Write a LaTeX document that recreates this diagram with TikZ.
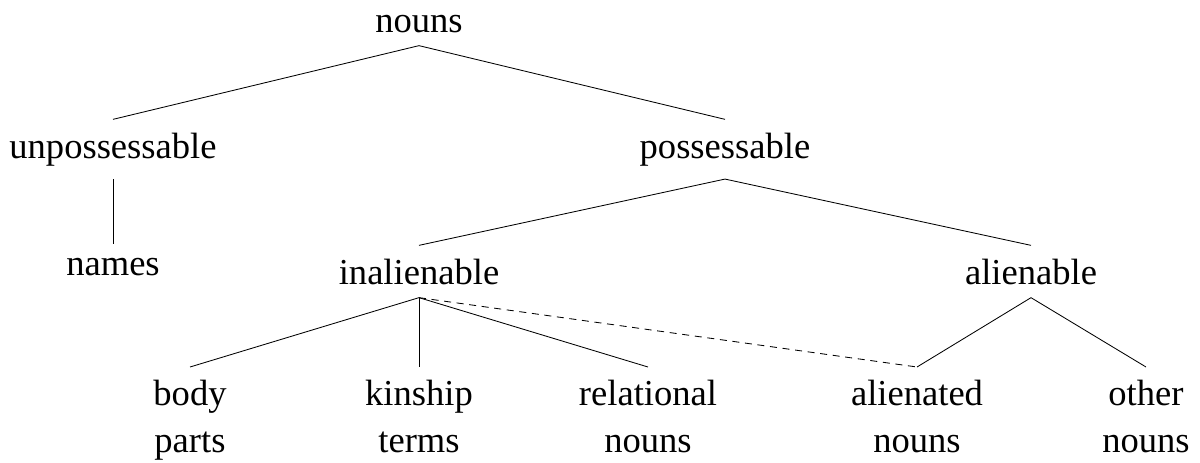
\documentclass[tikz,border=0pt]{standalone}
\usepackage{fontspec}
\setmainfont{Liberation Serif}
\begin{document}
\begin{tikzpicture}[x=0.025cm,y=-0.025cm,
  lbl/.style={inner xsep=0pt,inner ysep=0.325cm,font=\fontsize{26pt}{33.4pt}\selectfont},
  leaf/.style={lbl,align=center,anchor=north},
  br/.style={line width=0.6pt},
  dbr/.style={line width=0.6pt,dash pattern=on 5pt off 4pt}]
\useasboundingbox (0,0) rectangle (1200,462);
\node[lbl,anchor=base] (nouns) at (419,32) {nouns};
\node[lbl,anchor=base] (unposs) at (113,158) {unpossessable};
\node[lbl,anchor=base] (poss) at (725,158) {possessable};
\node[lbl,anchor=base] (names) at (113,275) {names};
\node[lbl,anchor=base] (inal) at (419,284) {inalienable};
\node[lbl,anchor=base] (alien) at (1031,284) {alienable};
\node[leaf] (body) at (190,367) {body\\parts};
\node[leaf] (kin) at (419,367) {kinship\\terms};
\node[leaf] (rel) at (648,367) {relational\\nouns};
\node[leaf] (alnd) at (917,367) {alienated\\nouns};
\node[leaf] (other) at (1146,367) {other\\nouns};
\draw[br] (nouns.south) -- (unposs.north);
\draw[br] (nouns.south) -- (poss.north);
\draw[br] (unposs.south) -- (names.north);
\draw[br] (poss.south) -- (inal.north);
\draw[br] (poss.south) -- (alien.north);
\draw[br] (inal.south) -- (body.north);
\draw[br] (inal.south) -- (kin.north);
\draw[br] (inal.south) -- (rel.north);
\draw[dbr] (inal.south) -- (alnd.north);
\draw[br] (alien.south) -- (alnd.north);
\draw[br] (alien.south) -- (other.north);
\end{tikzpicture}
\end{document}
